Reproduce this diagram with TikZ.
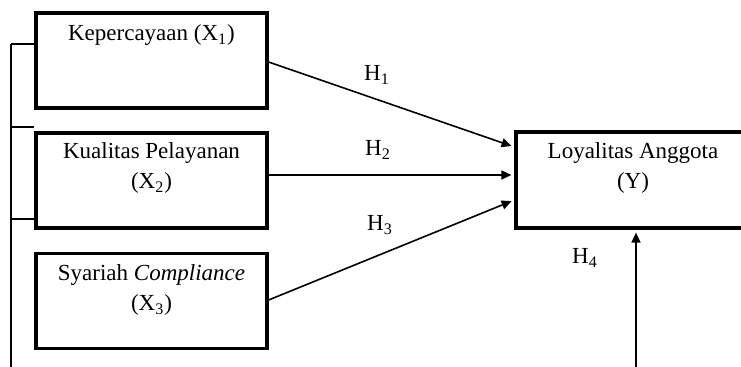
\documentclass[tikz,border=0pt]{standalone}
\usepackage{fontspec}
\setmainfont{Liberation Serif}
\usetikzlibrary{arrows.meta,positioning}

\begin{document}
\begin{tikzpicture}[x=0.5pt,y=-0.5pt,
  varbox/.style={draw, line width=1.6pt, minimum width=115.5pt, minimum height=47.5pt, inner sep=0pt},
  vartext/.style={align=center, inner sep=0pt, font=\fontsize{11.5}{15}\selectfont},
  hyp/.style={-{Triangle[length=5pt,width=4.5pt]}, line width=0.8pt, shorten >=1.5pt},
  hlabel/.style={inner sep=0pt, font=\fontsize{11.5}{14}\selectfont}]
\useasboundingbox (0,0) rectangle (741,367);
\clip (0,0) rectangle (741,367);
% variable boxes
\node[varbox] (x1) at (151.5,60.5) {};
\node[varbox] (x2) at (151.5,180.5) {};
\node[varbox] (x3) at (151.5,301) {};
\node[varbox, minimum width=117pt, minimum height=48pt] (y) at (633,180) {};
\node[vartext] (x1t) at ([yshift=-12pt]x1.north) {Kepercayaan (X\textsubscript{1})};
\node[vartext] (x2t) at ([yshift=-18.5pt]x2.north) {Kualitas Pelayanan\\(X\textsubscript{2})};
\node[vartext] (x3t) at ([yshift=-19pt]x3.north) {Syariah \textit{Compliance}\\(X\textsubscript{3})};
\node[vartext] (yt) at ([yshift=-19pt]y.north) {Loyalitas Anggota\\(Y)};
% hypotheses
\draw[hyp] ([yshift=-0.75pt]x1.east) -- ([yshift=16.5pt]y.west);
\draw[hyp] ([yshift=2.75pt]x2.east) -- ([yshift=2.5pt]y.west);
\draw[hyp] ([yshift=0.5pt]x3.east) -- ([yshift=-10pt]y.west);
\coordinate (h4s) at (636,372);
\draw[hyp] (h4s) -- (h4s |- y.south);
\node[hlabel] (h1) at (377,75) {H\textsubscript{1}};
\node[hlabel] (h2) at (378,150) {H\textsubscript{2}};
\node[hlabel] (h3) at (380,225) {H\textsubscript{3}};
\node[hlabel] (h4) at (585,258) {H\textsubscript{4}};
% bracket on the left
\coordinate (b0) at (11,44);
\coordinate (b1) at (11,127);
\coordinate (b2) at (11,219);
\coordinate (b3) at (11,372);
\draw[line width=1pt] (b0) -- (b3);
\draw[line width=1pt] (b0) -- (x1.west |- b0);
\draw[line width=1pt] (b1) -- (x1.west |- b1);
\draw[line width=1pt] (b2) -- (x2.west |- b2);
\end{tikzpicture}
\end{document}
